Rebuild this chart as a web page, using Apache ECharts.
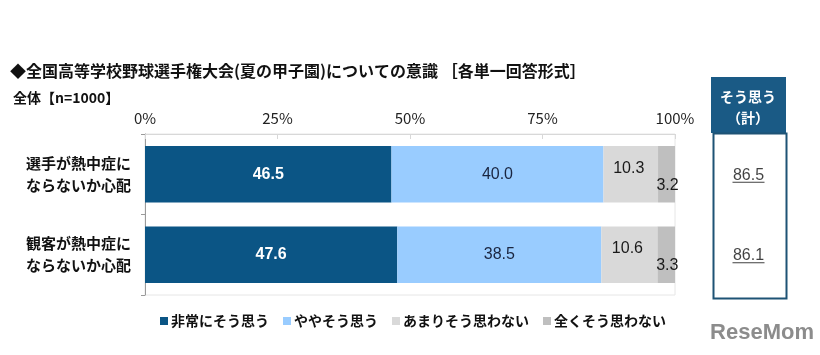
<!DOCTYPE html>
<html><head><meta charset="utf-8">
<script src="https://cdn.jsdelivr.net/npm/echarts@6/dist/echarts.min.js"></script>
<style>html,body{margin:0;padding:0;background:#fff}#c{width:820px;height:355px}</style>
</head><body><div id="c"></div>
<script>
const categories = ['選手が熱中症に\nならないか心配', '観客が熱中症に\nならないか心配'];
const seriesNames = ['非常にそう思う', 'ややそう思う', 'あまりそう思わない', '全くそう思わない'];
const strongly = [46.5, 47.6];
const somewhat = [40.0, 38.5];
const notMuch = [10.3, 10.6];
const notAtAll = [3.2, 3.3];
const totals = [86.5, 86.1];
const xTicks = [0, 25, 50, 75, 100];

const colors = ['#0b5585', '#99ccff', '#d9d9d9', '#bfbfbf'];
const font = '"Noto Sans CJK JP", "Noto Sans", sans-serif';
const numFont = '"Liberation Sans", Arial, sans-serif';

const chart = echarts.init(document.getElementById('c'));
const mk = (name, data, color, label) => ({
  name, type: 'bar', stack: 'a', data, barWidth: '70%',
  xAxisIndex: 0, yAxisIndex: 0,
  itemStyle: { color }, label, emphasis: { disabled: true }
});
chart.setOption({
  animation: false,
  title: [
    { text: '◆全国高等学校野球選手権大会(夏の甲子園)についての意識 ［各単一回答形式］', left: 5, top: 58,
      textStyle: { fontFamily: font, fontSize: 16, fontWeight: 'bold', color: '#111' } },
    { text: '全体【n=1000】', left: 8, top: 86,
      textStyle: { fontFamily: font, fontSize: 14, fontWeight: 'bold', color: '#111' } }
  ],
  legend: {
    left: 155, top: 309, itemWidth: 8, itemHeight: 8, itemGap: 14,
    icon: 'rect', data: seriesNames,
    textStyle: { fontFamily: font, fontSize: 14, fontWeight: 'bold', color: '#111', padding: [0, 0, 0, -2] }
  },
  grid: [
    { left: 145, right: 145, top: 134, height: 161, show: true, borderColor: '#e6e6e6', borderWidth: 1 },
    { left: 712, width: 73, top: 134, height: 161 }
  ],
  xAxis: [
    { type: 'value', position: 'top', min: 0, max: 100, interval: 25, gridIndex: 0,
      axisLine: { show: true, lineStyle: { color: '#d8d8d8' } },
      axisTick: { show: true, inside: true, length: 5, lineStyle: { color: '#d8d8d8' } },
      splitLine: { show: false },
      axisLabel: { margin: 8, formatter: v => xTicks.includes(v) ? v + '%' : '', fontFamily: font, fontSize: 15, color: '#222' } },
    { type: 'value', min: 0, max: 1, gridIndex: 1, show: false }
  ],
  yAxis: [
    { type: 'category', data: categories, inverse: true, gridIndex: 0,
      axisLine: { show: true, lineStyle: { color: '#9a9a9a' } },
      axisTick: { show: true, length: 4, lineStyle: { color: '#9a9a9a' } },
      axisLabel: { margin: 14, fontFamily: font, fontSize: 15, fontWeight: 'bold', color: '#111', lineHeight: 22, align: 'right' } },
    { type: 'category', data: categories, inverse: true, gridIndex: 1, show: false }
  ],
  series: [
    mk(seriesNames[0], strongly, colors[0], { show: true, position: 'inside', color: '#fff', fontFamily: numFont, fontSize: 16, fontWeight: 'bold', formatter: p => p.value.toFixed(1) }),
    mk(seriesNames[1], somewhat, colors[1], { show: true, position: 'inside', color: '#1a2540', fontFamily: numFont, fontSize: 16, formatter: p => p.value.toFixed(1) }),
    mk(seriesNames[2], notMuch, colors[2], { show: true, position: 'inside', offset: [-2, -6], color: '#1a1a1a', fontFamily: numFont, fontSize: 16, formatter: p => p.value.toFixed(1) }),
    mk(seriesNames[3], notAtAll, colors[3], { show: true, position: 'inside', offset: [1, 11], color: '#1a1a1a', fontFamily: numFont, fontSize: 16, formatter: p => p.value.toFixed(1) }),
    { type: 'scatter', xAxisIndex: 1, yAxisIndex: 1, symbolSize: 0,
      data: totals.map((v, i) => [0.5, i, v]),
      label: { show: true, position: 'inside', offset: [0, 1], formatter: p => p.value[2].toFixed(1), fontFamily: numFont, fontSize: 16, color: '#111' },
      emphasis: { disabled: true }, silent: true },
    { type: 'scatter', xAxisIndex: 1, yAxisIndex: 1, symbol: 'rect', symbolSize: [32, 1.2], symbolOffset: [0, 8],
      itemStyle: { color: '#111' },
      data: totals.map((v, i) => [0.5, i, v]),
      emphasis: { disabled: true }, silent: true }
  ],
  graphic: [
    { type: 'rect', left: 711, top: 77, shape: { width: 75, height: 56 }, style: { fill: '#1a5a85' }, silent: true },
    { type: 'text', x: 748, y: 86, style: { text: 'そう思う\n（計）', fill: '#fff', font: 'bold 14px "Noto Sans CJK JP"', align: 'center', textAlign: 'center', lineHeight: 21 }, silent: true },
    { type: 'rect', left: 711, top: 131, shape: { width: 73, height: 165 }, style: { fill: 'none', stroke: '#1e5375', lineWidth: 2 }, silent: true },
    { type: 'text', right: 6, top: 322, style: { text: 'ReseMom', fill: '#8c8c8c', font: 'bold 22px "Liberation Sans Narrow", "Liberation Sans", sans-serif' }, silent: true }
  ]
});
</script></body></html>
